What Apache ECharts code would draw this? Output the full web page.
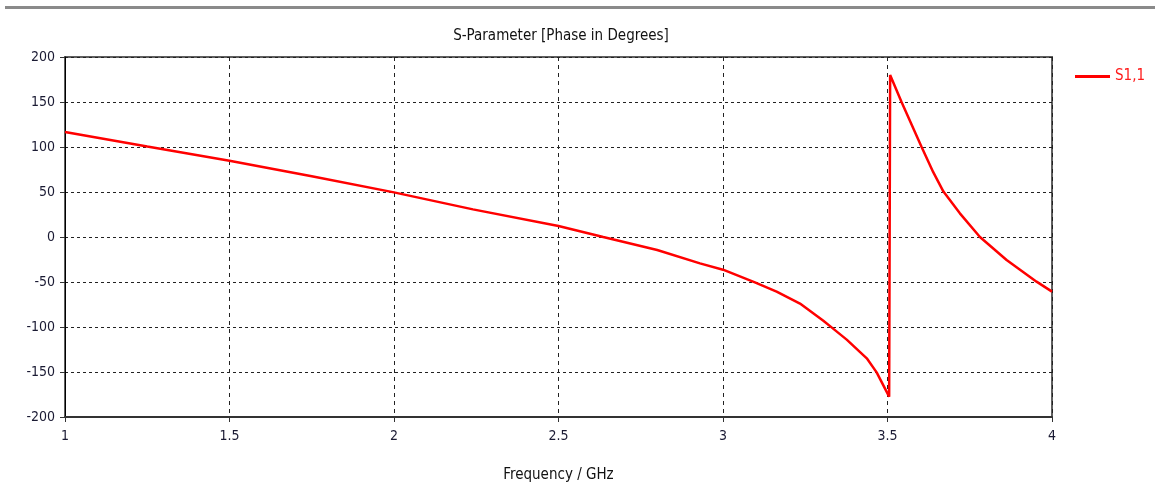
<!DOCTYPE html>
<html>
	<head>
		<meta charset="utf-8">
		<title>S-Parameter</title>
		<script src="https://cdn.jsdelivr.net/npm/echarts@6/dist/echarts.min.js"></script>
	</head>
	<body style="margin:0;background:#fff">
		<div id="container" style="width:1158px;height:488px;"></div>
		<script type="text/javascript">
			// 频率 (GHz) 和 相位 (度)
			var freq = [1, 1.25, 1.5, 1.75, 2, 2.24, 2.5, 2.636, 2.8, 2.93, 3, 3.097, 3.163, 3.234, 3.305, 3.33, 3.376,
				3.437, 3.467, 3.505,
				3.508, 3.543, 3.604, 3.639, 3.67, 3.72, 3.781, 3.862, 3.953, 4];
			var phase = [116.7, 100.6, 84.8, 67.5, 49.6, 30.7, 12.2, 0, -14.4, -29.3, -36.3, -50.4, -60.7, -74, -93,
				-100.4, -114, -134.8, -150.4, -177.4,
				180, 149.7, 99.7, 72, 50.5, 26.3, 0, -25.5, -49.6, -60.7];
			var xTicks = [1, 1.5, 2, 2.5, 3, 3.5, 4];
			var yTicks = [-200, -150, -100, -50, 0, 50, 100, 150, 200];

			var font = '"DejaVu Sans Condensed", "DejaVu Sans", sans-serif';
			var data = [];
			for (var i = 0; i < freq.length; i++) {
				data.push([freq[i], phase[i]]);
			}

			var option = {
				animation: false,
				title: {
					text: 'S-Parameter [Phase in Degrees]',
					left: 556, top: 24, textAlign: 'center',
					textStyle: { fontFamily: font, fontSize: 15, fontWeight: 'normal', color: '#111' }
				},
				legend: {
					left: 1070, top: 64,
					icon: 'rect', itemWidth: 35, itemHeight: 3,
					textStyle: { fontFamily: font, fontSize: 15, color: '#ff1a1a' },
					data: ['S1,1']
				},
				graphic: [
					{ type: 'rect', shape: { x: 5, y: 6, width: 1150, height: 3 }, style: { fill: '#8a8a8a' } }
				],
				grid: {
					left: 65, right: 106, top: 57, bottom: 71,
					show: true, borderColor: '#606060', borderWidth: 2
				},
				xAxis: {
					type: 'value', min: xTicks[0], max: xTicks[xTicks.length - 1], interval: 0.5,
					name: 'Frequency / GHz', nameLocation: 'middle', nameGap: 51,
					nameTextStyle: { fontFamily: font, fontSize: 15, color: '#111' },
					axisLine: { onZero: false, lineStyle: { color: '#333', width: 2 } },
					axisTick: { show: true, length: 5, lineStyle: { color: '#333' } },
					axisLabel: { fontFamily: font, fontSize: 14, color: '#1a1a33', margin: 12 },
					splitLine: { show: true, lineStyle: { type: [4, 4], color: '#222', width: 1 } }
				},
				yAxis: {
					type: 'value', min: yTicks[0], max: yTicks[yTicks.length - 1], interval: 50,
					axisLine: { show: true, onZero: false, lineStyle: { color: '#000', width: 1 } },
					axisTick: { show: true, length: 5, lineStyle: { color: '#333' } },
					axisLabel: { fontFamily: font, fontSize: 14, color: '#1a1a33', margin: 10 },
					splitLine: { show: true, lineStyle: { type: [3, 3], color: '#222', width: 1 } }
				},
				series: [
					{
						name: 'S1,1',
						type: 'line',
						data: data,
						smooth: false,
						showSymbol: false,
						symbol: 'none',
						lineStyle: { color: '#ff0000', width: 2.5 },
						itemStyle: { color: '#ff0000' }
					}
				]
			};
			var myChart = echarts.init(document.getElementById('container'));
			myChart.setOption(option);
		</script>
	</body>
</html>
